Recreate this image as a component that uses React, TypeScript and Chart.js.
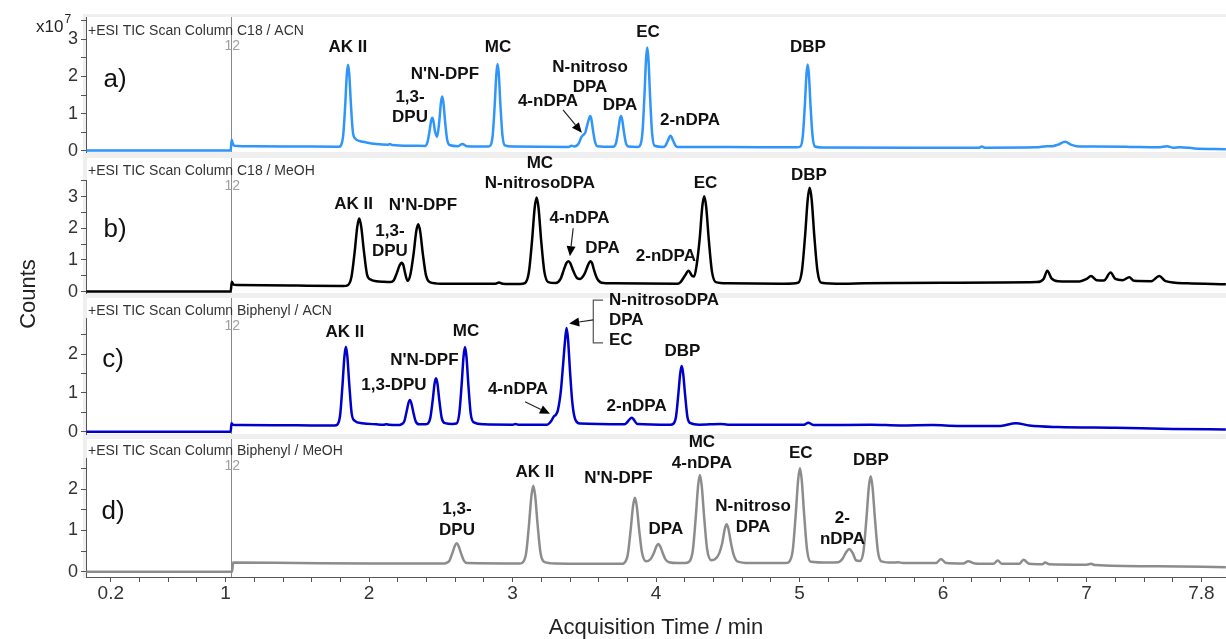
import React, { useEffect, useRef } from 'react';
import { Chart, registerables } from 'chart.js';

Chart.register(...registerables);
Chart.defaults.font.family = "'Liberation Sans', Arial, sans-serif";

const W = 1226;
const H = 639;
const X_MIN = 0.027;
const X_MAX = 7.971;
const MARKER_T = 1.04;

const xTickValues = [0.2, 0.4, 0.6, 0.8, 1, 1.2, 1.4, 1.6, 1.8, 2, 2.2, 2.4, 2.6, 2.8, 3, 3.2, 3.4, 3.6, 3.8, 4, 4.2, 4.4, 4.6, 4.8, 5, 5.2, 5.4, 5.6, 5.8, 6, 6.2, 6.4, 6.6, 6.8, 7, 7.2, 7.4, 7.6, 7.8];
const xLabelValues = [0.2, 1, 2, 3, 4, 5, 6, 7, 7.8];
const yTicksTall = [0, 0.5, 1, 1.5, 2, 2.5, 3, 3.5];
const yTicksShort = [0, 0.5, 1, 1.5, 2, 2.5];

// Traces: [time (min), counts (x10^7)]
const traceA: [number, number][] = [
  [0.03, 0.01], [1.035, 0.01], [1.042, 0.3], [1.05, 0.2], [1.06, 0.14], [1.2, 0.125], [1.5, 0.12], [1.79, 0.115],
  [1.802, 0.14], [1.819, 0.41], [1.833, 1.21], [1.8445, 2.05], [1.853, 2.31], [1.8615, 2.06], [1.873, 1.25], [1.887, 0.5],
  [1.904, 0.33], [1.93, 0.27], [1.98, 0.23], [2.05, 0.19], [2.13, 0.17], [2.145, 0.19], [2.16, 0.16], [2.3, 0.14], [2.39, 0.135],
  [2.406, 0.23], [2.42, 0.51], [2.4315, 0.8], [2.44, 0.89], [2.4485, 0.8], [2.458, 0.55], [2.474, 0.38], [2.489, 0.8],
  [2.5005, 1.3], [2.509, 1.46], [2.5175, 1.3], [2.529, 0.8], [2.543, 0.32], [2.56, 0.16], [2.62, 0.13], [2.65, 0.19],
  [2.68, 0.13], [2.83, 0.12],
  [2.844, 0.14], [2.861, 0.42], [2.875, 1.225], [2.8865, 2.06], [2.895, 2.33], [2.9035, 2.06], [2.915, 1.225], [2.929, 0.42],
  [2.946, 0.15], [3.0, 0.12],
  [3.39, 0.11], [3.41, 0.14], [3.43, 0.12], [3.46, 0.2], [3.48, 0.38], [3.495, 0.44], [3.507, 0.5], [3.52, 0.7],
  [3.5315, 0.86], [3.54, 0.94], [3.5485, 0.86], [3.56, 0.55], [3.574, 0.25], [3.59, 0.13], [3.7, 0.115],
  [3.721, 0.22], [3.735, 0.525], [3.7465, 0.84], [3.755, 0.94], [3.7635, 0.84], [3.775, 0.525], [3.789, 0.22], [3.806, 0.12],
  [3.87, 0.11],
  [3.887, 0.14], [3.904, 0.47], [3.918, 1.44], [3.9295, 2.45], [3.938, 2.77], [3.9465, 2.45], [3.958, 1.44], [3.972, 0.47],
  [3.989, 0.14], [4.05, 0.11],
  [4.066, 0.15], [4.08, 0.26], [4.1, 0.41], [4.12, 0.26], [4.134, 0.15], [4.15, 0.11], [4.5, 0.105], [4.98, 0.1],
  [5.005, 0.12], [5.022, 0.4], [5.036, 1.21], [5.0475, 2.05], [5.056, 2.32], [5.0645, 2.05], [5.076, 1.21], [5.09, 0.4],
  [5.107, 0.12], [5.15, 0.095],
  [5.8, 0.09], [6.25, 0.09], [6.27, 0.12], [6.29, 0.09], [6.65, 0.1], [6.72, 0.13], [6.76, 0.13], [6.8, 0.17],
  [6.85, 0.25], [6.89, 0.17], [6.93, 0.13], [7.05, 0.12], [7.3, 0.11], [7.5, 0.1], [7.56, 0.13], [7.6, 0.09],
  [7.65, 0.1], [7.75, 0.07], [7.97, 0.05],
];

const traceB: [number, number][] = [
  [0.03, 0.0], [1.035, 0.0], [1.043, 0.31], [1.055, 0.22], [1.08, 0.21], [1.5, 0.19], [1.82, 0.18],
  [1.85, 0.2], [1.877, 0.47], [1.899, 1.245], [1.9175, 2.05], [1.931, 2.31], [1.9445, 2.06], [1.963, 1.3], [1.985, 0.55],
  [2.01, 0.38], [2.05, 0.33], [2.1, 0.31], [2.15, 0.3], [2.172, 0.36], [2.194, 0.6], [2.2125, 0.83], [2.226, 0.91],
  [2.2395, 0.82], [2.25, 0.6], [2.268, 0.34], [2.288, 0.55], [2.31, 1.2], [2.3285, 1.91], [2.342, 2.13], [2.3555, 1.91],
  [2.374, 1.2], [2.396, 0.52], [2.423, 0.3], [2.5, 0.25], [2.88, 0.25], [2.905, 0.29], [2.93, 0.25], [3.05, 0.24],
  [3.086, 0.27], [3.113, 0.61], [3.135, 1.6], [3.1535, 2.64], [3.167, 2.97], [3.1805, 2.64], [3.199, 1.6], [3.221, 0.63],
  [3.248, 0.3], [3.3, 0.27],
  [3.334, 0.4], [3.356, 0.68], [3.3745, 0.9], [3.388, 0.96], [3.4015, 0.9], [3.42, 0.68], [3.45, 0.42], [3.47, 0.4],
  [3.5, 0.55], [3.52, 0.78], [3.5325, 0.91], [3.543, 0.96], [3.5535, 0.9], [3.566, 0.7], [3.59, 0.4], [3.62, 0.28],
  [3.7, 0.26], [4.15, 0.25],
  [4.17, 0.3], [4.2, 0.5], [4.226, 0.66], [4.25, 0.5], [4.265, 0.48], [4.281, 0.8], [4.303, 1.65], [4.3215, 2.68],
  [4.335, 3.01], [4.3485, 2.68], [4.367, 1.63], [4.389, 0.63], [4.416, 0.3], [4.5, 0.26], [4.9, 0.25],
  [4.989, 0.28], [5.016, 0.66], [5.038, 1.77], [5.0565, 2.92], [5.07, 3.28], [5.0835, 2.92], [5.102, 1.77], [5.124, 0.66],
  [5.151, 0.28], [5.3, 0.25],
  [5.45, 0.26], [5.7, 0.27], [6.0, 0.28], [6.4, 0.29], [6.65, 0.3], [6.7, 0.4], [6.726, 0.66], [6.755, 0.42],
  [6.8, 0.33], [6.95, 0.32], [7.0, 0.4], [7.03, 0.49], [7.07, 0.36], [7.12, 0.35], [7.167, 0.6], [7.2, 0.4],
  [7.25, 0.36], [7.297, 0.45], [7.33, 0.34], [7.45, 0.33], [7.506, 0.49], [7.55, 0.33], [7.7, 0.26], [7.97, 0.23],
];

const traceC: [number, number][] = [
  [0.03, 0.0], [1.035, 0.0], [1.041, 0.22], [1.05, 0.18], [1.1, 0.17], [1.5, 0.165], [1.76, 0.16],
  [1.778, 0.18], [1.798, 0.43], [1.814, 1.18], [1.828, 1.95], [1.838, 2.19], [1.848, 1.95], [1.862, 1.2], [1.878, 0.48],
  [1.9, 0.28], [1.95, 0.22], [2.05, 0.19], [2.1, 0.18], [2.12, 0.195], [2.14, 0.18], [2.2, 0.17],
  [2.224, 0.19], [2.244, 0.26], [2.26, 0.5], [2.274, 0.74], [2.284, 0.82], [2.294, 0.74], [2.308, 0.5], [2.324, 0.27],
  [2.35, 0.19], [2.39, 0.19],
  [2.41, 0.21], [2.426, 0.35], [2.442, 0.78], [2.456, 1.24], [2.466, 1.38], [2.476, 1.24], [2.49, 0.78], [2.506, 0.35],
  [2.53, 0.22], [2.58, 0.2],
  [2.608, 0.21], [2.628, 0.46], [2.644, 1.18], [2.658, 1.94], [2.668, 2.18], [2.678, 1.94], [2.692, 1.18], [2.708, 0.46],
  [2.73, 0.24], [2.8, 0.19],
  [3.0, 0.18], [3.02, 0.2], [3.04, 0.18], [3.24, 0.18], [3.27, 0.28], [3.288, 0.4], [3.3, 0.43], [3.315, 0.55],
  [3.336, 1.05], [3.352, 1.75], [3.366, 2.38], [3.376, 2.67], [3.386, 2.38], [3.4, 1.55], [3.416, 0.75], [3.436, 0.32],
  [3.47, 0.21], [3.78, 0.19], [3.83, 0.36], [3.87, 0.2], [4.1, 0.18],
  [4.118, 0.2], [4.138, 0.38], [4.154, 0.94], [4.168, 1.51], [4.178, 1.69], [4.188, 1.51], [4.202, 0.94], [4.218, 0.38],
  [4.24, 0.22], [4.3, 0.18],
  [4.45, 0.2], [4.5, 0.18], [4.8, 0.18], [5.03, 0.18], [5.06, 0.23], [5.1, 0.17], [5.5, 0.18], [5.7, 0.16],
  [5.93, 0.17], [6.1, 0.15], [6.4, 0.15], [6.507, 0.22], [6.6, 0.16], [6.8, 0.12], [7.2, 0.1], [7.6, 0.07], [7.97, 0.06],
];

const traceD: [number, number][] = [
  [0.03, 0.0], [1.045, 0.0], [1.052, 0.22], [1.5, 0.21], [2.0, 0.2], [2.52, 0.2],
  [2.535, 0.21], [2.56, 0.27], [2.58, 0.45], [2.5975, 0.63], [2.61, 0.69], [2.6225, 0.63], [2.64, 0.45], [2.66, 0.27],
  [2.685, 0.21], [3.05, 0.2],
  [3.069, 0.22], [3.094, 0.45], [3.114, 1.14], [3.1315, 1.85], [3.144, 2.08], [3.1565, 1.85], [3.174, 1.14], [3.194, 0.46],
  [3.22, 0.24], [3.3, 0.2],
  [3.76, 0.19], [3.777, 0.21], [3.802, 0.41], [3.822, 1.0], [3.8395, 1.6], [3.852, 1.79], [3.8645, 1.6], [3.882, 1.0],
  [3.902, 0.45], [3.93, 0.25],
  [3.96, 0.3], [3.985, 0.46], [4.0025, 0.62], [4.015, 0.67], [4.0275, 0.62], [4.045, 0.46], [4.065, 0.3], [4.09, 0.23],
  [4.15, 0.21], [4.2, 0.21],
  [4.23, 0.24], [4.255, 0.5], [4.275, 1.27], [4.2925, 2.08], [4.305, 2.34], [4.3175, 2.08], [4.335, 1.3], [4.355, 0.55],
  [4.385, 0.28], [4.41, 0.3],
  [4.44, 0.45], [4.461, 0.7], [4.4785, 1.04], [4.491, 1.15], [4.5035, 1.04], [4.521, 0.7], [4.541, 0.4], [4.566, 0.25],
  [4.65, 0.21], [4.9, 0.21],
  [4.927, 0.24], [4.952, 0.52], [4.972, 1.35], [4.9895, 2.22], [5.002, 2.5], [5.0145, 2.22], [5.032, 1.35], [5.052, 0.52],
  [5.077, 0.24], [5.2, 0.22],
  [5.27, 0.23], [5.3, 0.32], [5.32, 0.45], [5.346, 0.55], [5.37, 0.45], [5.395, 0.27], [5.42, 0.26],
  [5.445, 0.5], [5.465, 1.27], [5.4825, 2.06], [5.495, 2.31], [5.5075, 2.06], [5.525, 1.27], [5.545, 0.5], [5.57, 0.25],
  [5.65, 0.22], [5.687, 0.23],
  [5.72, 0.21], [5.95, 0.21], [5.985, 0.31], [6.02, 0.21], [6.14, 0.2], [6.175, 0.25], [6.22, 0.2], [6.35, 0.19],
  [6.38, 0.27], [6.41, 0.19], [6.53, 0.19], [6.56, 0.29], [6.6, 0.19], [6.69, 0.18], [6.71, 0.22], [6.74, 0.18],
  [7.0, 0.17], [7.03, 0.19], [7.06, 0.16], [7.5, 0.13], [7.97, 0.11],
];

type Label = { lines: string[]; t: number; v: number; align?: CanvasTextAlign };
type Arrow = { from: [number, number]; to: [number, number] };

const labelsA: Label[] = [
  { lines: ['AK II'], t: 1.852, v: 2.79 },
  { lines: ['1,3-', 'DPU'], t: 2.285, v: 1.45 },
  { lines: ["N'N-DPF"], t: 2.528, v: 2.06 },
  { lines: ['MC'], t: 2.898, v: 2.79 },
  { lines: ['N-nitroso', 'DPA'], t: 3.539, v: 2.25 },
  { lines: ['4-nDPA'], t: 3.246, v: 1.34 },
  { lines: ['DPA'], t: 3.748, v: 1.23 },
  { lines: ['EC'], t: 3.943, v: 3.19 },
  { lines: ['2-nDPA'], t: 4.236, v: 0.83 },
  { lines: ['DBP'], t: 5.058, v: 2.79 },
];
const arrowsA: Arrow[] = [{ from: [3.351, 1.1], to: [3.482, 0.49] }];

const labelsB: Label[] = [
  { lines: ['AK II'], t: 1.891, v: 2.77 },
  { lines: ['1,3-', 'DPU'], t: 2.145, v: 1.91 },
  { lines: ["N'N-DPF"], t: 2.375, v: 2.73 },
  { lines: ['MC', 'N-nitrosoDPA'], t: 3.19, v: 4.05 },
  { lines: ['4-nDPA'], t: 3.466, v: 2.31 },
  { lines: ['DPA'], t: 3.626, v: 1.37 },
  { lines: ['2-nDPA'], t: 4.068, v: 1.1 },
  { lines: ['EC'], t: 4.344, v: 3.42 },
  { lines: ['DBP'], t: 5.065, v: 3.68 },
];
const arrowsB: Arrow[] = [{ from: [3.422, 2.0], to: [3.399, 1.12] }];

const labelsC: Label[] = [
  { lines: ['AK II'], t: 1.831, v: 2.55 },
  { lines: ["N'N-DPF"], t: 2.385, v: 1.85 },
  { lines: ['1,3-DPU'], t: 2.173, v: 1.2 },
  { lines: ['MC'], t: 2.675, v: 2.58 },
  { lines: ['4-nDPA'], t: 3.037, v: 1.08 },
  { lines: ['N-nitrosoDPA', 'DPA', 'EC'], t: 3.671, v: 3.39, align: 'left' },
  { lines: ['2-nDPA'], t: 3.864, v: 0.66 },
  { lines: ['DBP'], t: 4.183, v: 2.06 },
];
const arrowsC: Arrow[] = [
  { from: [3.086, 0.77], to: [3.26, 0.46] },
  { from: [3.562, 2.88], to: [3.394, 2.79] },
];
const bracketC: [number, number][] = [[3.63, 3.39], [3.562, 3.39], [3.562, 2.29], [3.63, 2.29]];

const labelsD: Label[] = [
  { lines: ['1,3-', 'DPU'], t: 2.612, v: 1.52 },
  { lines: ['AK II'], t: 3.155, v: 2.4 },
  { lines: ["N'N-DPF"], t: 3.737, v: 2.26 },
  { lines: ['DPA'], t: 4.068, v: 1.03 },
  { lines: ['MC', '4-nDPA'], t: 4.319, v: 3.14 },
  { lines: ['N-nitroso', 'DPA'], t: 4.675, v: 1.57 },
  { lines: ['EC'], t: 5.008, v: 2.86 },
  { lines: ['2-', 'nDPA'], t: 5.298, v: 1.29 },
  { lines: ['DBP'], t: 5.497, v: 2.7 },
];

type Panel = {
  id: string;
  trace: [number, number][];
  color: string;
  yMin: number;
  yMax: number;
  yTicks: number[];
  panelTop: number;
  areaTop: number;
  areaBottom: number;
  title: string;
  titleY: number;
  letter: string;
  letterAt: [number, number];
  labels: Label[];
  arrows: Arrow[];
  bracket?: [number, number][];
  lineHeight: number;
  isBottom: boolean;
};

const PANELS: Panel[] = [
  {
    id: 'a', trace: traceA, color: '#2f95fb', yMin: -0.027, yMax: 3.59, yTicks: yTicksTall,
    panelTop: 17, areaTop: 17, areaBottom: 152, title: '+ESI TIC Scan Column C18 / ACN', titleY: 31,
    letter: 'a)', letterAt: [0.229, 1.9], labels: labelsA, arrows: arrowsA, lineHeight: 20, isBottom: false,
  },
  {
    id: 'b', trace: traceB, color: '#000000', yMin: -0.044, yMax: 3.524, yTicks: yTicksTall,
    panelTop: 158, areaTop: 180, areaBottom: 293, title: '+ESI TIC Scan Column C18 / MeOH', titleY: 171.5,
    letter: 'b)', letterAt: [0.229, 1.945], labels: labelsB, arrows: arrowsB, lineHeight: 20, isBottom: false,
  },
  {
    id: 'c', trace: traceC, color: '#0000cc', yMin: -0.059, yMax: 2.93, yTicks: yTicksShort,
    panelTop: 298, areaTop: 318, areaBottom: 434, title: '+ESI TIC Scan Column Biphenyl / ACN', titleY: 311,
    letter: 'c)', letterAt: [0.215, 1.85], labels: labelsC, arrows: arrowsC, bracket: bracketC, lineHeight: 20, isBottom: false,
  },
  {
    id: 'd', trace: traceD, color: '#8c8c8c', yMin: -0.128, yMax: 2.75, yTicks: yTicksShort,
    panelTop: 439, areaTop: 458, areaBottom: 577, title: '+ESI TIC Scan Column Biphenyl / MeOH', titleY: 451,
    letter: 'd)', letterAt: [0.215, 1.45], labels: labelsD, arrows: [], lineHeight: 21, isBottom: true,
  },
];

const FONT = "'Liberation Sans', Arial, sans-serif";

function drawArrow(ctx: CanvasRenderingContext2D, x1: number, y1: number, x2: number, y2: number) {
  const ang = Math.atan2(y2 - y1, x2 - x1);
  const len = 10;
  const half = 4.5;
  const bx = x2 - len * Math.cos(ang);
  const by = y2 - len * Math.sin(ang);
  ctx.strokeStyle = '#222';
  ctx.lineWidth = 1.2;
  ctx.beginPath();
  ctx.moveTo(x1, y1);
  ctx.lineTo(bx, by);
  ctx.stroke();
  ctx.fillStyle = '#000';
  ctx.beginPath();
  ctx.moveTo(x2, y2);
  ctx.lineTo(bx + half * Math.sin(ang), by - half * Math.cos(ang));
  ctx.lineTo(bx - half * Math.sin(ang), by + half * Math.cos(ang));
  ctx.closePath();
  ctx.fill();
}

function makeDeco(p: Panel) {
  return {
    id: 'deco_' + p.id,
    beforeDraw(chart: any) {
      const { ctx, chartArea } = chart;
      ctx.save();
      ctx.fillStyle = '#ffffff';
      ctx.fillRect(chartArea.left + 1, p.panelTop, chartArea.right - chartArea.left, chartArea.bottom - p.panelTop);
      ctx.restore();
    },
    beforeDatasetsDraw(chart: any) {
      const { ctx, chartArea, scales } = chart;
      const mx = Math.round(scales.x.getPixelForValue(MARKER_T)) + 0.5;
      ctx.save();
      ctx.strokeStyle = '#8a8a8a';
      ctx.lineWidth = 1;
      ctx.beginPath();
      ctx.moveTo(mx, p.panelTop);
      ctx.lineTo(mx, chartArea.bottom);
      ctx.stroke();
      ctx.restore();
    },
    afterDatasetsDraw(chart: any) {
      const { ctx, chartArea, scales } = chart;
      const xs = scales.x;
      const ys = scales.y;
      const px = (t: number) => xs.getPixelForValue(t);
      const py = (v: number) => ys.getPixelForValue(v);
      ctx.save();
      ctx.font = `14px ${FONT}`;
      ctx.fillStyle = '#333';
      ctx.textAlign = 'left';
      ctx.textBaseline = 'middle';
      ctx.fillText(p.title, chartArea.left + 2, p.titleY);
      ctx.font = `14px ${FONT}`;
      ctx.fillStyle = '#a0a0a0';
      ctx.textAlign = 'center';
      ctx.fillText('12', px(MARKER_T) + 1, p.titleY + 15);
      ctx.font = `26px ${FONT}`;
      ctx.fillStyle = '#111';
      ctx.textAlign = 'center';
      ctx.fillText(p.letter, px(p.letterAt[0]), py(p.letterAt[1]));
      ctx.font = `bold 17px ${FONT}`;
      ctx.fillStyle = '#111';
      for (const l of p.labels) {
        ctx.textAlign = l.align || 'center';
        const x = px(l.t);
        const y = py(l.v);
        l.lines.forEach((s, i) => ctx.fillText(s, x, y + i * p.lineHeight));
      }
      if (p.bracket) {
        ctx.strokeStyle = '#555';
        ctx.lineWidth = 1.2;
        ctx.beginPath();
        p.bracket.forEach(([t, v], i) => {
          if (i === 0) ctx.moveTo(px(t), py(v));
          else ctx.lineTo(px(t), py(v));
        });
        ctx.stroke();
      }
      for (const a of p.arrows) {
        drawArrow(ctx, px(a.from[0]), py(a.from[1]), px(a.to[0]), py(a.to[1]));
      }
      if (p.id === 'a') {
        ctx.fillStyle = '#222';
        ctx.textAlign = 'left';
        ctx.font = `17px ${FONT}`;
        ctx.fillText('x10', 36, 27);
        const w = ctx.measureText('x10').width;
        ctx.font = `12px ${FONT}`;
        ctx.fillText('7', 36 + w + 1, 20);
      }
      if (p.id === 'b') {
        ctx.fillStyle = '#222';
        ctx.font = `22px ${FONT}`;
        ctx.textAlign = 'center';
        ctx.translate(29, 294);
        ctx.rotate(-Math.PI / 2);
        ctx.fillText('Counts', 0, 0);
      }
      ctx.restore();
    },
  };
}

function buildConfig(p: Panel): any {
  return {
    type: 'line',
    data: {
      datasets: [
        {
          data: p.trace.map(([x, y]) => ({ x, y })),
          borderColor: p.color,
          borderWidth: 2.5,
          borderJoinStyle: 'round',
          pointRadius: 0,
          fill: false,
          cubicInterpolationMode: 'monotone',
        },
      ],
    },
    options: {
      animation: false,
      responsive: false,
      maintainAspectRatio: false,
      events: [],
      layout: { padding: { left: 46, right: 0, top: p.areaTop, bottom: p.isBottom ? 0 : H - p.areaBottom } },
      plugins: { legend: { display: false }, tooltip: { enabled: false } },
      scales: {
        x: {
          type: 'linear',
          min: X_MIN,
          max: X_MAX,
          display: p.isBottom,
          afterFit: (s: any) => { s.height = p.isBottom ? 62 : 0; },
          afterBuildTicks: (s: any) => { s.ticks = xTickValues.map((value) => ({ value })); },
          ticks: {
            autoSkip: false,
            maxRotation: 0,
            padding: 0,
            color: '#333',
            font: { size: 19 },
            callback: (v: number) => {
              const m = xLabelValues.find((l) => Math.abs(l - v) < 1e-6);
              return m === undefined ? '' : String(m);
            },
          },
          grid: { drawOnChartArea: false, tickLength: 5, color: '#555' },
          border: { color: '#555', width: 1 },
          title: {
            display: true,
            text: 'Acquisition Time / min',
            color: '#222',
            font: { size: 22, lineHeight: 1 },
            padding: 0,
          },
        },
        y: {
          type: 'linear',
          min: p.yMin,
          max: p.yMax,
          afterFit: (s: any) => { s.width = 40; },
          afterBuildTicks: (s: any) => { s.ticks = p.yTicks.map((value) => ({ value })); },
          ticks: {
            autoSkip: false,
            padding: 3,
            color: '#333',
            font: { size: 18 },
            callback: (v: number) => (Number.isInteger(v) ? String(v) : ''),
          },
          grid: { drawOnChartArea: false, tickLength: 5, color: '#555' },
          border: { color: '#555', width: 1 },
        },
      },
    },
    plugins: [makeDeco(p)],
  };
}

export default function App() {
  const canvases = useRef<(HTMLCanvasElement | null)[]>([]);
  useEffect(() => {
    const charts = PANELS.map((p, i) => new Chart(canvases.current[i] as HTMLCanvasElement, buildConfig(p)));
    return () => charts.forEach((c) => c.destroy());
  }, []);
  return (
    <div style={{ position: 'fixed', left: 0, top: 0, width: W, height: H, background: '#fff', overflow: 'hidden' }}>
      <div style={{ position: 'absolute', left: 83, top: 14, width: W - 83, height: 564, background: '#efefef' }} />
      {PANELS.map((p, i) => (
        <canvas
          key={p.id}
          ref={(el) => { canvases.current[i] = el; }}
          width={W}
          height={H}
          style={{ position: 'absolute', left: 0, top: 0, width: W, height: H }}
        />
      ))}
    </div>
  );
}
